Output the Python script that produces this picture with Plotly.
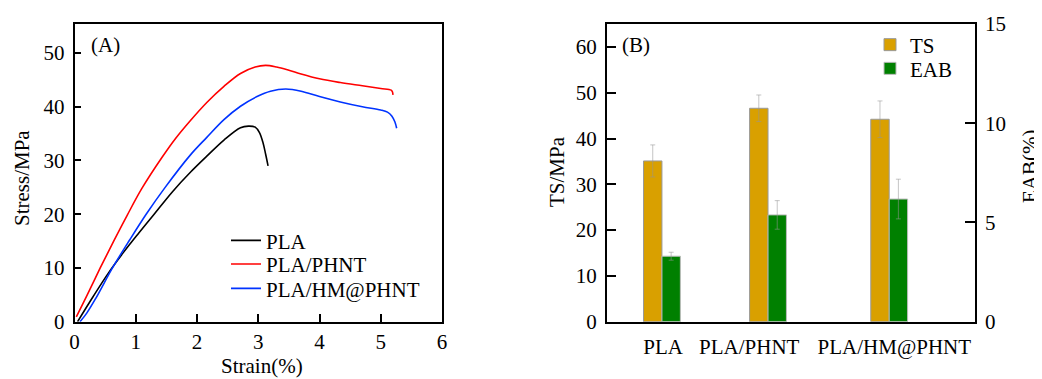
import plotly.graph_objects as go

# ---------------- Panel A data (stress-strain curves) ----------------
pla_strain = [0.05, 0.3, 0.55, 0.8, 1.05, 1.3, 1.6, 1.9, 2.16, 2.44, 2.71, 2.84, 2.95, 3.02, 3.08, 3.12, 3.16]
pla_stress = [0.0, 4.6, 9.0, 12.9, 16.5, 20.0, 24.2, 27.9, 30.8, 33.8, 36.1, 36.4, 36.2, 35.2, 33.2, 31.2, 29.0]

phnt_strain = [0.03, 0.2, 0.42, 0.64, 0.86, 1.1, 1.43, 1.65, 1.89, 2.16, 2.44, 2.71, 2.95, 3.12, 3.3, 3.5,
               3.7, 4.0, 4.34, 4.7, 5.0, 5.17, 5.19, 5.2]
phnt_stress = [0.9, 4.8, 10.0, 15.0, 19.8, 24.8, 30.6, 34.1, 37.4, 40.8, 43.8, 46.2, 47.4, 47.7, 47.4, 46.8,
               46.1, 45.2, 44.5, 43.9, 43.4, 43.1, 42.8, 42.2]

hm_strain = [0.09, 0.2, 0.35, 0.62, 0.9, 1.17, 1.48, 1.89, 2.16, 2.44, 2.71, 2.98, 3.2, 3.45, 3.7,
             4.0, 4.34, 4.7, 5.0, 5.11, 5.18, 5.23, 5.26]
hm_stress = [0.0, 1.6, 4.4, 10.0, 15.2, 20.0, 25.0, 31.0, 34.3, 37.6, 40.1, 41.9, 42.9, 43.3, 42.9,
             41.9, 40.9, 40.0, 39.4, 39.0, 38.3, 37.2, 36.0]

# ---------------- Panel B data (bar chart) ----------------
categories = ["PLA", "PLA/PHNT", "PLA/HM@PHNT"]
group_pos = [1.50, 4.38, 7.67]          # group centres on the numeric x axis
label_pos = [1.53, 3.87, 7.81]          # category label positions
ts_values = [35.1, 46.6, 44.2]
ts_errors = [3.5, 2.9, 4.0]
eab_values = [3.30, 5.38, 6.18]
eab_errors = [0.20, 0.72, 1.0]

FONT = "Liberation Serif, Times New Roman, serif"
FS = 21
# The page body keeps its default 8px margin, so the figure is laid out in window
# pixels shifted by that offset.
OFF = 8
WIN_W, WIN_H = 1042, 379
W, H = WIN_W - OFF, WIN_H - OFF


def px(x):
    return (x - OFF) / W


def py(y):
    return 1 - (y - OFF) / H


fig = go.Figure()

curve_specs = [
    (pla_strain, pla_stress, "PLA", "#000000", "legend"),
    (phnt_strain, phnt_stress, "PLA/PHNT", "#FF0000", "legend2"),
    (hm_strain, hm_stress, "PLA/HM@PHNT", "#0033FF", "legend3"),
]
for xs, ys, name, color, leg in curve_specs:
    fig.add_trace(go.Scatter(x=xs, y=ys, mode="lines", name=name,
                             line=dict(color=color, width=1.6, shape="spline", smoothing=1.0),
                             xaxis="x", yaxis="y", legend=leg))

bar_w = 0.5
err_color = "rgba(150,150,150,0.55)"
fig.add_trace(go.Bar(x=[g - bar_w / 2 for g in group_pos], y=ts_values, width=bar_w, name="TS",
                     marker=dict(color="#D9A000", line=dict(color="#999999", width=1)),
                     error_y=dict(type="data", array=ts_errors, color=err_color, thickness=1, width=2.5),
                     xaxis="x2", yaxis="y3", legend="legend4"))
fig.add_trace(go.Bar(x=[g + bar_w / 2 for g in group_pos], y=eab_values, width=bar_w, name="EAB",
                     marker=dict(color="#008000", line=dict(color="#bbbbbb", width=1)),
                     error_y=dict(type="data", array=eab_errors, color=err_color, thickness=1, width=2.5),
                     xaxis="x2", yaxis="y4", legend="legend5"))

axis_common = dict(showline=True, linecolor="black", linewidth=1.5, showgrid=False, zeroline=False,
                   automargin=False, tickfont=dict(family=FONT, size=FS, color="black"),
                   tickcolor="black")

dom_a = [px(74.5), px(442)]
dom_b = [px(606.7), px(975)]
dom_y = [py(321.7), py(24)]


def leg(x_px, y_px):
    return dict(x=px(x_px), y=py(y_px), xanchor="left", yanchor="middle",
                bgcolor="rgba(0,0,0,0)", borderwidth=0,
                font=dict(family=FONT, size=FS, color="black"))


fig.update_layout(
    template="none",
    width=W, height=H, margin=dict(l=0, r=0, t=0, b=0, pad=0),
    paper_bgcolor="white", plot_bgcolor="white",
    barmode="overlay", showlegend=True,
    font=dict(family=FONT, size=FS, color="black"),
    xaxis=dict(domain=dom_a, range=[0, 6], dtick=1, ticks="inside", ticklen=8, tickwidth=1.5,
               mirror=True, anchor="y", ticklabelstandoff=0, **axis_common),
    yaxis=dict(domain=dom_y, range=[0, 55.4], tickvals=[0, 10, 20, 30, 40, 50], ticks="inside",
               ticklen=7, tickwidth=1.5, mirror=True, anchor="x", ticklabelstandoff=4, **axis_common),
    xaxis2=dict(domain=dom_b, range=[0, 10], tickvals=label_pos, ticktext=categories, ticks="",
                mirror=True, anchor="y3", ticklabelstandoff=5, **axis_common),
    yaxis3=dict(domain=dom_y, range=[0, 65], tickvals=[0, 10, 20, 30, 40, 50, 60], ticks="inside",
                ticklen=10, tickwidth=1.5, anchor="x2", ticklabelstandoff=4, **axis_common),
    yaxis4=dict(range=[0, 15], tickvals=[0, 5, 10, 15], ticks="inside", ticklen=10, tickwidth=1.5,
                overlaying="y3", side="right", anchor="x2", ticklabelstandoff=4, **axis_common),
    legend=leg(226, 240.7),
    legend2=leg(226, 264.3),
    legend3=leg(226, 288.7),
    legend4=leg(870, 45),
    legend5=leg(870, 68.7),
)

annotations = [
    dict(text="(A)", x=px(89), y=py(45), xanchor="left", yanchor="middle"),
    dict(text="(B)", x=px(620), y=py(45), xanchor="left", yanchor="middle"),
    dict(text="Stress/MPa", x=px(22), y=py(178), textangle=-90, xanchor="center", yanchor="middle"),
    dict(text="Strain(%)", x=px(262), y=py(366), xanchor="center", yanchor="middle"),
    dict(text="TS/MPa", x=px(557), y=py(172), textangle=-90, xanchor="center", yanchor="middle"),
    dict(text="EAB(%)", x=px(1030), y=py(167), textangle=-90, xanchor="center", yanchor="middle"),
]
for a in annotations:
    a.update(xref="paper", yref="paper", showarrow=False,
             font=dict(family=FONT, size=FS, color="black"))
fig.update_layout(annotations=annotations)

fig.write_html("out.html")
